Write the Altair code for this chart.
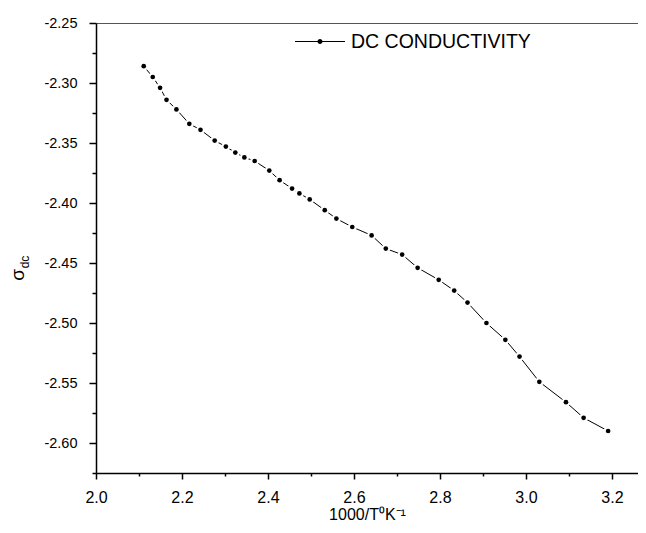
import altair as alt
import pandas as pd

# data
x_vals = [2.111, 2.132, 2.149, 2.164, 2.187, 2.217, 2.243, 2.276, 2.302, 2.324,
          2.345, 2.369, 2.403, 2.427, 2.456, 2.473, 2.497, 2.532, 2.559, 2.596,
          2.641, 2.674, 2.712, 2.748, 2.797, 2.833, 2.864, 2.908, 2.952, 2.985,
          3.031, 3.093, 3.134, 3.191]
y_vals = [-2.286, -2.295, -2.304, -2.314, -2.322, -2.334, -2.339, -2.348, -2.353, -2.358,
          -2.362, -2.365, -2.373, -2.381, -2.388, -2.392, -2.397, -2.406, -2.413, -2.420,
          -2.427, -2.438, -2.443, -2.454, -2.464, -2.473, -2.483, -2.500, -2.514, -2.528,
          -2.549, -2.566, -2.579, -2.590]
series_name = "DC CONDUCTIVITY"
x_ticks = [2.0, 2.1, 2.2, 2.3, 2.4, 2.5, 2.6, 2.7, 2.8, 2.9, 3.0, 3.1, 3.2]
y_ticks = [-2.25, -2.275, -2.30, -2.325, -2.35, -2.375, -2.40, -2.425, -2.45, -2.475,
           -2.50, -2.525, -2.55, -2.575, -2.60, -2.625]
x_title = "1000/T\u2070K\u207b\u00b9"
y_title_main = ["\u03c3"]
y_title_sub = ["dc"]

FONT = "Liberation Sans"

df = pd.DataFrame({"x": x_vals, "y": y_vals, "series": [series_name] * len(x_vals)})

xscale = alt.Scale(domain=[2.0, 3.2605], nice=False, zero=False)
yscale = alt.Scale(domain=[-2.625, -2.25], nice=False, zero=False)

x_minor = "round(datum.value*10)%2==1"
y_minor = "abs(round(datum.value*1000))%50!=0"

x_axis = alt.Axis(
    orient="bottom",
    values=x_ticks,
    labelExpr=f"{x_minor} ? '' : format(datum.value,'.1f')",
    tickSize={"condition": {"test": x_minor, "value": 3}, "value": 6},
    tickColor="black", tickWidth=1.5, domainColor="black", domainWidth=1.5,
    labelFont=FONT, labelFontSize=16, labelColor="black", labelPadding=10,
    labelFlush=False, labelOverlap=False, grid=False,
    title=x_title, titleFont=FONT, titleFontSize=16, titleFontWeight="normal",
    titleColor="black", titlePadding=1,
)
y_axis = alt.Axis(
    orient="left",
    values=y_ticks,
    labelExpr=f"{y_minor} ? '' : '-' + format(abs(datum.value),'.2f')",
    tickSize={"condition": {"test": y_minor, "value": 4}, "value": 7},
    tickColor="black", tickWidth=1.5, domainColor="black", domainWidth=1.5,
    labelFont=FONT, labelFontSize=14.5, labelColor="black", labelPadding=12,
    labelFlush=False, labelOverlap=False, grid=False, title=None,
)
top_axis = alt.Axis(orient="top", labels=False, ticks=False, domainColor="#555555",
                    domainWidth=1, title=None, grid=False)

base = alt.Chart(df)

line = base.mark_line(color="black", strokeWidth=1).encode(
    x=alt.X("x:Q", scale=xscale, axis=x_axis),
    y=alt.Y("y:Q", scale=yscale, axis=y_axis),
)

halo = base.mark_circle(color="white", opacity=1, size=80).encode(
    x=alt.X("x:Q", scale=xscale, axis=top_axis),
    y=alt.Y("y:Q", scale=yscale, axis=None),
)

legend_path = ("M-1,-0.022H1V0.022H-1Z"
               "M-0.1,0A0.1,0.1 0 1,1 0.1,0A0.1,0.1 0 1,1 -0.1,0Z")

dots = base.mark_circle(opacity=1, size=22).encode(
    x=alt.X("x:Q", scale=xscale, axis=None),
    y=alt.Y("y:Q", scale=yscale, axis=None),
    color=alt.Color("series:N", scale=alt.Scale(range=["black"]),
                    legend=alt.Legend(title=None, orient="none", legendX=199, legendY=-6.5,
                                      symbolType=legend_path, symbolSize=2500,
                                      symbolStrokeWidth=0, labelFont=FONT,
                                      labelFontSize=19.5, labelColor="black",
                                      labelOffset=6, labelLimit=0, padding=0)),
)

sigma = alt.Chart(pd.DataFrame({"t": y_title_main})).mark_text(
    font=FONT, fontSize=19, angle=270, align="center", baseline="middle", color="black"
).encode(text="t:N", x=alt.value(-78), y=alt.value(252))

sub = alt.Chart(pd.DataFrame({"t": y_title_sub})).mark_text(
    font=FONT, fontSize=12, angle=270, align="center", baseline="middle", color="black"
).encode(text="t:N", x=alt.value(-71), y=alt.value(239))

chart = alt.layer(line, halo, dots, sigma, sub).resolve_axis(
    x="independent", y="independent"
).properties(
    width=542, height=450,
    padding={"left": 88, "top": 15, "right": 0, "bottom": 49},
    autosize=alt.AutoSizeParams(type="none"),
    background="white",
).configure_view(stroke=None)

chart.save("out.html", embed_options={"renderer": "svg", "actions": False})
